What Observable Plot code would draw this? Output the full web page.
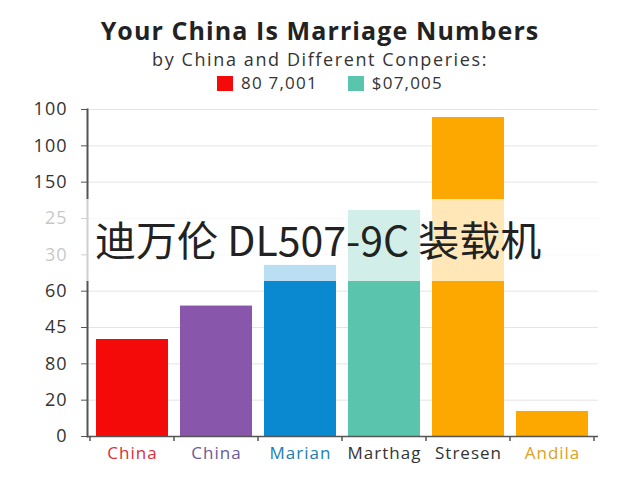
<!DOCTYPE html>
<html><head><meta charset="utf-8">
<script src="https://cdn.jsdelivr.net/npm/d3@7"></script>
<script src="https://cdn.jsdelivr.net/npm/@observablehq/plot@0.6"></script>
<style>
body{margin:0;background:#fff;font-family:"Open Sans",sans-serif;width:640px;height:480px;overflow:hidden;position:relative}
#title{position:absolute;top:17px;left:0;width:640px;text-align:center;font-weight:bold;font-size:25px;letter-spacing:1.1px;color:#222;line-height:27px}
#subtitle{position:absolute;top:49px;left:0;width:640px;text-align:center;font-size:18px;letter-spacing:1.6px;color:#333;line-height:21px}
#legend{position:absolute;top:73px;left:20px;width:620px;display:flex;justify-content:center;gap:30px;font-size:17px;letter-spacing:1.2px;color:#333;line-height:20px}
#legend span.sw{display:inline-block;width:16px;height:15px;margin-right:8px;vertical-align:-2px}
#chart{position:absolute;top:95px;left:0}
#wm{position:absolute;left:0;width:640px;background:rgba(255,255,255,0.72);}
#wm div{position:absolute;left:95px;font-family:"Noto Sans CJK SC",sans-serif;font-size:41px;line-height:41px;color:#222;white-space:nowrap}
svg text{letter-spacing:1px}
</style></head>
<body>
<div id="title"></div>
<div id="subtitle"></div>
<div id="legend"></div>
<div id="chart"></div>
<div id="wm"><div></div></div>
<script>
const titleText = "Your China Is Marriage Numbers";
const subtitleText = "by China and Different Conperies:";
const legendLabels = ["80 7,001", "$07,005"];
const legendColors = ["#f50a0a", "#5bc4ad"];
const categories = ["China", "China", "Marian", "Marthag", "Stresen", "Andila"];
const values = [2.67, 3.59, 4.71, 6.22, 8.78, 0.69];
const barColors = ["#f50a0a", "#8856aa", "#0a88d0", "#5bc4ad", "#fda800", "#fda800"];
const labelColors = ["#d8303a", "#6a5a9a", "#1a7fb0", "#333333", "#333333", "#e0a020"];
const yTickValues = [0, 1, 2, 3, 4, 5, 6, 7, 8, 9];
const yTickLabels = ["0", "20", "80", "45", "60", "30", "25", "150", "100", "100"];
const watermarkText = "迪万伦 DL507-9C 装载机";
const watermarkBand = [4.27, 6.51];

document.getElementById("title").textContent = titleText;
document.getElementById("subtitle").textContent = subtitleText;
const leg = document.getElementById("legend");
legendLabels.forEach((l, i) => {
  const d = document.createElement("div");
  d.innerHTML = `<span class="sw" style="background:${legendColors[i]}"></span>${l}`;
  leg.appendChild(d);
});

const idx = d3.range(categories.length);
const chart = Plot.plot({
  width: 640,
  height: 385,
  marginTop: 14,
  marginBottom: 44,
  marginLeft: 87,
  marginRight: 42,
  style: {fontFamily: "Open Sans", background: "white"},
  x: {domain: idx, paddingInner: 0.14, paddingOuter: 0.08, axis: null},
  y: {domain: [0, 9]},
  color: {type: "identity"},
  marks: [
    Plot.gridY(yTickValues, {stroke: "#e4e4e4", strokeOpacity: 1}),
    Plot.barY(idx, {x: d => d, y: d => values[d], fill: d => barColors[d]}),
    Plot.axisY(yTickValues, {tickFormat: d => yTickLabels[d], fontSize: 18, tickSize: 6, tickPadding: 14, stroke: "#555", fill: "#333", label: null}),
    Plot.frame({anchor: "left", stroke: "#555", strokeWidth: 2}),
    Plot.ruleY([0], {stroke: "#555", strokeWidth: 1.5}),
    Plot.text(idx, {x: d => d, frameAnchor: "bottom", dy: 22, text: d => categories[d], fill: d => labelColors[d], fontSize: 17})
  ]
});
document.getElementById("chart").appendChild(chart);

// boundary tick marks on the x axis, placed from the band scale
const xs = chart.scale("x");
const ys = chart.scale("y");
const gap = (xs.step - xs.bandwidth) / 2;
const bounds = idx.map(i => xs.apply(i) - gap).concat([xs.apply(idx[idx.length - 1]) + xs.bandwidth + gap]);
const y0 = ys.apply(0);
d3.select(chart).append("g").selectAll("line").data(bounds).join("line")
  .attr("x1", d => d).attr("x2", d => d).attr("y1", y0).attr("y2", y0 + 5)
  .attr("stroke", "#555").attr("stroke-width", 1.5);

const bandTop = 95 + ys.apply(watermarkBand[1]);
const bandBot = 95 + ys.apply(watermarkBand[0]);
const wm = document.getElementById("wm");
wm.style.top = bandTop + "px";
wm.style.height = (bandBot - bandTop) + "px";
const wt = wm.querySelector("div");
wt.textContent = watermarkText;
wt.style.top = ((bandBot - bandTop) / 2 - 22) + "px";
</script>
</body></html>
